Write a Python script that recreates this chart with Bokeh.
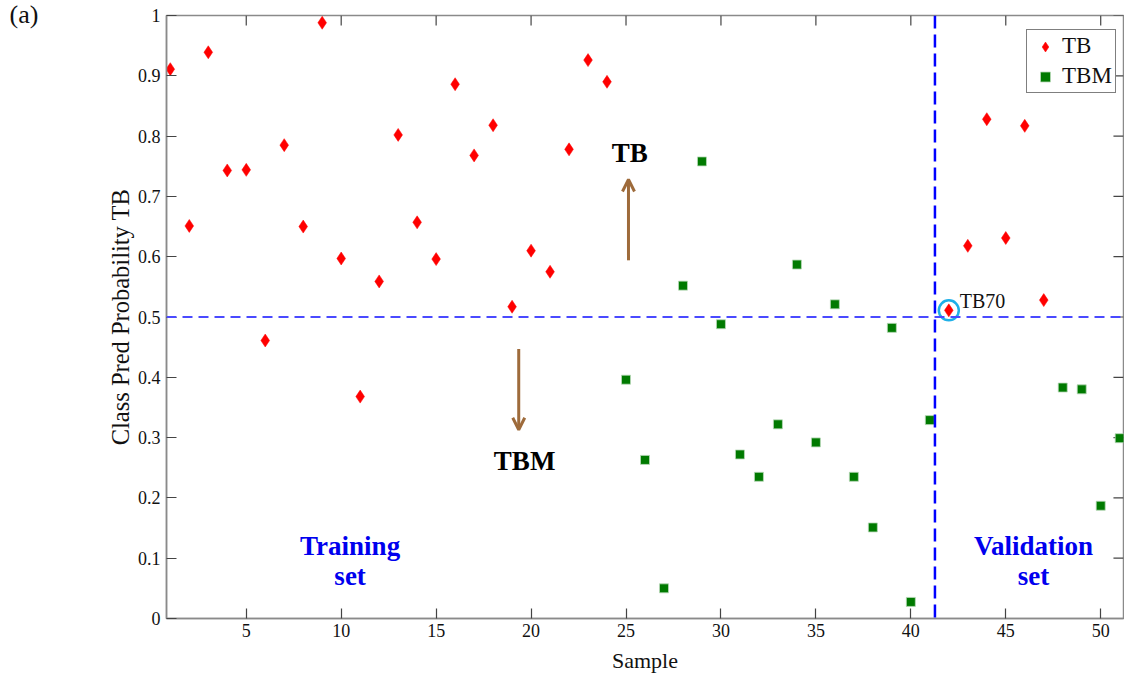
from bokeh.plotting import figure
from bokeh.models import (Range1d, Span, Arrow, OpenHead, Label, Title,
                          Legend, LegendItem, FixedTicker)
from bokeh.embed import file_html
from bokeh.resources import INLINE

# ---- data ----
tb_sample = [1, 2, 3, 4, 5, 6, 7, 8, 9, 10, 11, 12, 13, 14, 15, 16, 17, 18,
             19, 20, 21, 22, 23, 24, 42, 43, 44, 45, 46, 47]
tb_prob = [0.911, 0.651, 0.939, 0.743, 0.744, 0.461, 0.785, 0.650, 0.988,
           0.597, 0.368, 0.559, 0.802, 0.657, 0.596, 0.886, 0.768, 0.818,
           0.517, 0.610, 0.575, 0.778, 0.926, 0.890,
           0.511, 0.618, 0.828, 0.631, 0.817, 0.528]
tbm_sample = [25, 26, 27, 28, 29, 30, 31, 32, 33, 34, 35, 36, 37, 38, 39, 40,
              41, 48, 49, 50, 51]
tbm_prob = [0.396, 0.263, 0.050, 0.552, 0.758, 0.488, 0.272, 0.235, 0.322,
            0.587, 0.292, 0.521, 0.235, 0.151, 0.482, 0.0275, 0.329,
            0.383, 0.380, 0.187, 0.299]
threshold = 0.5
split_sample = 41.27
highlight_sample = 42
highlight_name = "TB70"
x_ticks = [5, 10, 15, 20, 25, 30, 35, 40, 45, 50]
y_ticks = [0, 0.1, 0.2, 0.3, 0.4, 0.5, 0.6, 0.7, 0.8, 0.9, 1.0]
y_tick_labels = ["0", "0.1", "0.2", "0.3", "0.4", "0.5", "0.6", "0.7", "0.8", "0.9", "1"]

FONT = "Liberation Serif"
X0, X1, Y0, Y1 = 0.8, 51.2, 0.0, 1.0

panel_title = Title(text="(a)", align="left", offset=-157, standoff=-27,
                    text_font=FONT, text_font_size="26px", text_font_style="normal",
                    text_color="#111111")

p = figure(width=1124, height=684, output_backend="svg", toolbar_location=None,
           x_range=Range1d(X0, X1), y_range=Range1d(Y0, Y1),
           min_border_left=166, min_border_top=15, min_border_bottom=66,
           min_border_right=1, title=panel_title)
p.xgrid.visible = False
p.ygrid.visible = False
p.outline_line_color = "#8a8a8a"
p.outline_line_width = 1.5

def style_axis(ax):
    ax.axis_line_color = "#8a8a8a"
    ax.axis_line_width = 1.5
    ax.major_tick_line_color = "#444444"
    ax.major_tick_line_width = 1.2
    ax.major_tick_in = 10
    ax.major_tick_out = 0
    ax.minor_tick_in = 0
    ax.minor_tick_out = 0
    ax.major_label_text_font = FONT
    ax.major_label_text_font_size = "18px"
    ax.major_label_text_color = "#111111"
    ax.axis_label_text_font = FONT
    ax.axis_label_text_font_style = "normal"
    ax.axis_label_text_font_size = "22px"
    ax.axis_label_text_color = "#111111"

p.xaxis.ticker = FixedTicker(ticks=x_ticks)
p.yaxis.ticker = FixedTicker(ticks=y_ticks)
p.yaxis.major_label_overrides = {t: l for t, l in zip(y_ticks, y_tick_labels)}
style_axis(p.xaxis[0])
style_axis(p.yaxis[0])
p.xaxis.axis_label = "Sample"
p.yaxis.axis_label = "Class Pred Probability TB"
p.yaxis.axis_label_text_font_size = "24.5px"
p.xaxis.major_label_standoff = 5
p.xaxis.axis_label_standoff = 8
p.yaxis.major_label_standoff = 6
p.yaxis.axis_label_standoff = 1

# inward ticks on the top and right frame edges (MATLAB "box on")
tick_dy = 0.0166 * (Y1 - Y0)
tick_dx = 0.0105 * (X1 - X0)
p.segment(x0=x_ticks, y0=[Y1] * len(x_ticks), x1=x_ticks, y1=[Y1 - tick_dy] * len(x_ticks),
          line_color="#444444", line_width=1.2)
p.segment(x0=[X1] * len(y_ticks), y0=y_ticks, x1=[X1 - tick_dx] * len(y_ticks), y1=y_ticks,
          line_color="#444444", line_width=1.2)

# reference lines
p.add_layout(Span(location=threshold, dimension="width", line_color="#4a4aff",
                  line_width=2, line_dash="10 6"))
p.add_layout(Span(location=split_sample, dimension="height", line_color="#0000ff",
                  line_width=2.5, line_dash="13 6"))

r_tb = p.scatter(tb_sample, tb_prob, marker="diamond", size=13,
                 fill_color="#ff0000", line_color="#ff0000", line_width=0.5)
r_tbm = p.scatter(tbm_sample, tbm_prob, marker="square", size=9,
                  fill_color="#007a00", line_color="#b9d9b9", line_width=0.8)

hi_y = tb_prob[tb_sample.index(highlight_sample)]
p.scatter([highlight_sample], [hi_y], marker="circle", size=20,
          fill_color=None, line_color="#1fb0e8", line_width=2.5)
p.add_layout(Label(x=highlight_sample, y=hi_y, text=highlight_name,
                   x_offset=11, y_offset=-2, text_font=FONT, text_font_size="20px",
                   text_color="#111111", text_baseline="bottom"))

# arrows and texts
brown = "#9e6b3b"
p.add_layout(Arrow(end=OpenHead(size=12, line_color=brown, line_width=3),
                   x_start=25.13, y_start=0.594, x_end=25.13, y_end=0.728,
                   line_color=brown, line_width=3))
p.add_layout(Arrow(end=OpenHead(size=12, line_color=brown, line_width=3),
                   x_start=19.35, y_start=0.447, x_end=19.35, y_end=0.313,
                   line_color=brown, line_width=3))
BIG = "27px"
p.add_layout(Label(x=25.2, y=0.772, text="TB", text_font=FONT, text_font_size=BIG,
                   text_font_style="bold", text_color="#000000",
                   text_align="center", text_baseline="middle"))
p.add_layout(Label(x=19.66, y=0.261, text="TBM", text_font=FONT, text_font_size=BIG,
                   text_font_style="bold", text_color="#000000",
                   text_align="center", text_baseline="middle"))
for xs, l1, l2 in [(10.47, "Training", "set"), (46.46, "Validation", "set")]:
    p.add_layout(Label(x=xs, y=0.121, text=l1, text_font=FONT, text_font_size=BIG,
                       text_font_style="bold", text_color="#0000ee",
                       text_align="center", text_baseline="middle"))
    p.add_layout(Label(x=xs, y=0.071, text=l2, text_font=FONT, text_font_size=BIG,
                       text_font_style="bold", text_color="#0000ee",
                       text_align="center", text_baseline="middle"))

legend = Legend(items=[LegendItem(label="TB", renderers=[r_tb]),
                       LegendItem(label="TBM", renderers=[r_tbm])],
                location=(860, 525))
legend.border_line_color = "#000000"
legend.border_line_width = 1.5
legend.label_text_font = FONT
legend.label_text_font_size = "23px"
legend.label_text_color = "#111111"
legend.glyph_width = 30
legend.glyph_height = 25
legend.label_height = 25
legend.label_standoff = 2
legend.padding = 3
legend.spacing = 4
legend.margin = 0
legend.background_fill_alpha = 1
p.add_layout(legend)

open("out.html", "w").write(file_html(p, INLINE))
